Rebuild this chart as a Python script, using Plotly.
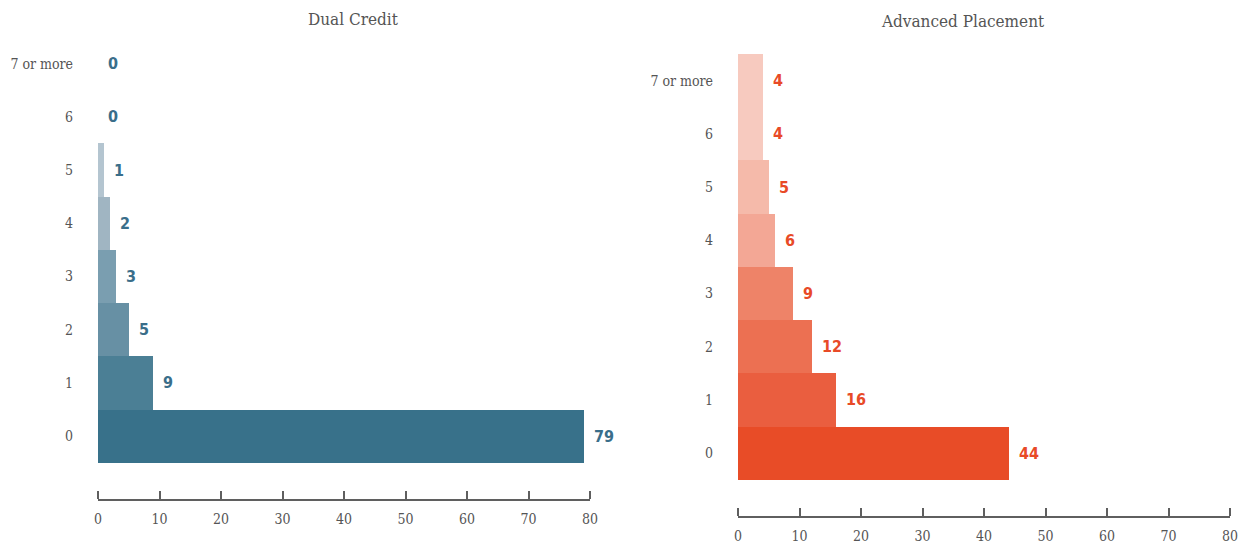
import plotly.graph_objects as go

# Number of courses taken, by program
categories = ["0", "1", "2", "3", "4", "5", "6", "7 or more"]
dual_credit = [79, 9, 5, 3, 2, 1, 0, 0]
advanced_placement = [44, 16, 12, 9, 6, 5, 4, 4]
x_ticks = [0, 10, 20, 30, 40, 50, 60, 70, 80]
x_range = [0, 80]

dual_colors = ["#38718A", "#4B7F95", "#6790A4", "#7A9EB0",
               "#A0B5C2", "#B4C5D0", "#C8D6DF", "#C8D6DF"]
ap_colors = ["#E84C27", "#EA5E3F", "#EC7052", "#EE8368",
             "#F3A795", "#F5BAAA", "#F7CABF", "#F7CABF"]

TEXT_GRAY = "#555555"
AXIS_GRAY = "#5f5f5f"
SERIF = "DejaVu Serif Condensed, DejaVu Serif, serif"
NARROW = "Liberation Sans Narrow, DejaVu Sans Condensed, sans-serif"

W, H = 1249, 544
positions = list(range(len(categories)))

fig = go.Figure()

panels = [
    dict(name="Dual Credit", values=dual_credit, colors=dual_colors,
         label_color="#3A6E8A", xdom=(98, 590), ydom=(37, 499),
         title_xy=(353, 19)),
    dict(name="Advanced Placement", values=advanced_placement, colors=ap_colors,
         label_color="#E84A27", xdom=(738, 1230), ydom=(54, 516),
         title_xy=(963, 21)),
]

axes = {}
for i, p in enumerate(panels):
    xa = "x" if i == 0 else "x%d" % (i + 1)
    ya = "y" if i == 0 else "y%d" % (i + 1)
    xt = "x%d" % (i + 3)          # overlay axis carrying the upward tick marks
    fig.add_trace(go.Bar(
        x=p["values"], y=positions, orientation="h",
        marker=dict(color=p["colors"], line=dict(width=0)),
        xaxis=xa, yaxis=ya, showlegend=False, hoverinfo="skip",
    ))
    fig.add_trace(go.Scatter(
        x=[None], y=[None], xaxis=xt, yaxis=ya, mode="markers",
        showlegend=False, hoverinfo="skip",
    ))
    # value labels just past the end of each bar
    for v, pos in zip(p["values"], positions):
        fig.add_annotation(
            x=v, y=pos, xref=xa, yref=ya, text=str(v),
            showarrow=False, xanchor="left", yanchor="middle", xshift=8,
            font=dict(family=NARROW, size=16, color=p["label_color"],
                      weight="bold"),
        )
    x0, x1 = p["xdom"]
    y0, y1 = p["ydom"]
    axes[xa.replace("x", "xaxis")] = dict(
        domain=[x0 / W, x1 / W], range=x_range, anchor=ya,
        tickmode="array", tickvals=x_ticks, ticks="", showline=True,
        linecolor=AXIS_GRAY, linewidth=2, showgrid=False, zeroline=False,
        automargin=False, ticklabelstandoff=6,
        tickfont=dict(family=SERIF, size=14, color=TEXT_GRAY),
    )
    axes[xt.replace("x", "xaxis")] = dict(
        domain=[x0 / W, x1 / W], range=x_range, overlaying=xa, side="top",
        anchor="free", position=(H - y1) / H,
        tickmode="array", tickvals=x_ticks, ticks="outside", ticklen=8,
        tickwidth=2, tickcolor=AXIS_GRAY, showticklabels=False,
        showline=False, showgrid=False, zeroline=False, automargin=False,
    )
    axes[ya.replace("y", "yaxis")] = dict(
        domain=[(H - y1) / H, (H - y0) / H], range=[-1.18, 7.5],
        anchor=xa, tickmode="array", tickvals=positions,
        ticktext=categories, showline=False, showgrid=False, zeroline=False,
        ticks="", ticklabelstandoff=24, automargin=False,
        tickfont=dict(family=SERIF, size=14, color=TEXT_GRAY),
    )
    tx, ty = p["title_xy"]
    fig.add_annotation(
        x=tx / W, y=(H - ty) / H,
        xref="paper", yref="paper", text=p["name"], showarrow=False,
        xanchor="center", yanchor="middle",
        font=dict(family=SERIF, size=17, color=TEXT_GRAY),
    )

fig.update_layout(
    width=W, height=H, bargap=0,
    margin=dict(l=0, r=0, t=0, b=0, autoexpand=False),
    paper_bgcolor="white", plot_bgcolor="white",
    **axes,
)

fig.write_html("out.html")
